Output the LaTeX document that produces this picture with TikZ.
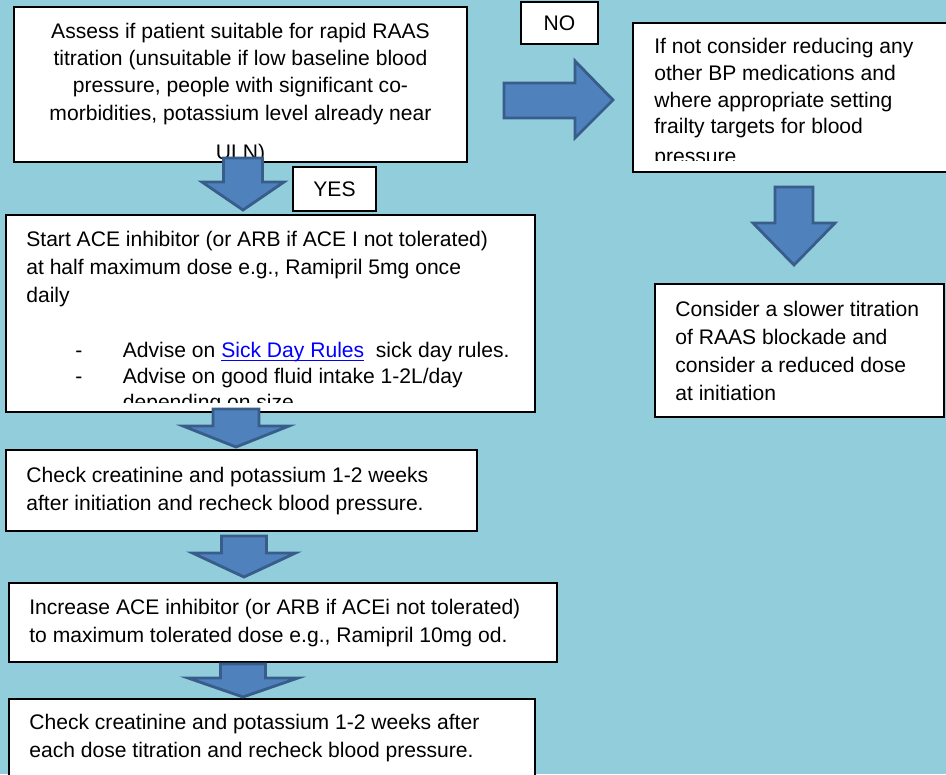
\documentclass[tikz,border=0pt]{standalone}
\usepackage{fontspec}
\setmainfont{Liberation Sans}
\usetikzlibrary{fit}

\definecolor{pagebg}{HTML}{92CDDC}
\definecolor{arrowfill}{HTML}{4F81BD}
\definecolor{arrowedge}{HTML}{385D8A}
\definecolor{linkblue}{HTML}{0000FF}

% underline set close to the baseline, as in a hyperlink
\newcommand{\linkline}[1]{\setbox0\hbox{#1}\rlap{\rule[-2.2pt]{\wd0}{0.6pt}}\box0}

\tikzset{
  stepbox/.style={draw=black, fill=white, line width=0.8pt, inner sep=0pt},
  boxtext/.style={anchor=north west, align=left, inner sep=0pt,
    font=\fontsize{12}{15.9}\selectfont},
  labeltext/.style={inner sep=0pt, font=\fontsize{12}{15.9}\selectfont},
  blockarrow/.style={fill=arrowfill, draw=arrowedge, line width=1.6pt, line join=miter},
}

\begin{document}
\begin{tikzpicture}[x=0.02cm, y=-0.02cm]

    \fill[pagebg] (0,0) rectangle (946,774);
    \useasboundingbox (0,0) rectangle (946,774);
    \clip (0,0) rectangle (946,774);

    % boxes
    \node[stepbox, fit={(14,7) (467,162)}] (assess) {};
    \node[stepbox, fit={(633,23) (950,172)}] (notsuit) {};
    \node[stepbox, fit={(655,284) (944,417)}] (slower) {};
    \node[stepbox, fit={(6,215) (535,412)}] (start) {};
    \node[stepbox, fit={(6,450) (477,531)}] (check) {};
    \node[stepbox, fit={(9,583) (557,662)}] (increase) {};
    \node[stepbox, fit={(9,699) (535,785)}] (recheck) {};

    \node[stepbox, fit={(293,167) (376,211)}] (yes) {};
    \node[stepbox, fit={(521,2) (598,44)}] (no) {};
    \node[labeltext] (yeslabel) at (yes.center) {YES};
    \node[labeltext] (nolabel) at (no.center) {NO};

    % texts (some run out of their box)
    \begin{scope}
        \clip (assess.north west) rectangle ([shift={(0,-3)}]assess.south east);
        \node[boxtext, anchor=north, align=center,
              font=\fontsize{12}{15.5}\selectfont] (assesstext) at (240.5,18.9)
            {\strut Assess if patient suitable for rapid RAAS\\
             titration (unsuitable if low baseline blood\\
             pressure, people with significant co-\\
             morbidities, potassium level already near\\[7.2pt]
             ULN)};
    \end{scope}

    \begin{scope}
        \clip (notsuit.north west) rectangle ([shift={(0,-12)}]notsuit.south east);
        \node[boxtext, font=\fontsize{12}{15.25}\selectfont] (notsuittext) at (654,34.5)
            {\strut If not consider reducing any\\
             other BP medications and\\
             where appropriate setting\\
             frailty targets for blood\\[1.8pt]
             pressure};
    \end{scope}

    \node[boxtext] (slowertext) at (675,296.4)
        {\strut Consider a slower titration\\
         of RAAS blockade and\\
         consider a reduced dose\\
         at initiation};

    \node[boxtext] (starttext) at (26,226.4)
        {\strut Start ACE inhibitor (or ARB if ACE I not tolerated)\\
         at half maximum dose e.g., Ramipril 5mg once\\
         daily};

    \begin{scope}
        \clip (start.north west) rectangle ([shift={(0,-10)}]start.south east);
        \node[boxtext, font=\fontsize{12}{14.8}\selectfont] (advice) at (75,338.5)
            {\strut\makebox[0.95cm][l]{-}Advise on
             \textcolor{linkblue}{\linkline{Sick Day Rules}}\ \ sick day rules.\\
             \makebox[0.95cm][l]{-}Advise on good fluid intake 1-2L/day\\
             \makebox[0.95cm][l]{}depending on size};
    \end{scope}

    \node[boxtext] (checktext) at (26,462.4)
        {\strut Check creatinine and potassium 1-2 weeks\\
         after initiation and recheck blood pressure.};

    \node[boxtext] (increasetext) at (29,594.4)
        {\strut Increase ACE inhibitor (or ARB if ACEi not tolerated)\\
         to maximum tolerated dose e.g., Ramipril 10mg od.};

    \node[boxtext] (rechecktext) at (29,709.4)
        {\strut Check creatinine and potassium 1-2 weeks after\\
         each dose titration and recheck blood pressure.};

    % block arrows
    \draw[blockarrow] (504,83) -- (575,83) -- (575,61) -- (613,100)
        -- (575,138) -- (575,118) -- (504,118) -- cycle;

    \foreach \cx/\ty/\hy/\by/\sw/\hw in {243/158/182/210/19.5/41,
        794/187/223/265/19/41, 236/409/426/447/23/53,
        244/536/553/577/22.5/51.5, 243/664/678/697/22.5/55}
        \draw[blockarrow] (\cx-\sw,\ty) -- (\cx+\sw,\ty) -- (\cx+\sw,\hy)
            -- (\cx+\hw,\hy) -- (\cx,\by) -- (\cx-\hw,\hy) -- (\cx-\sw,\hy) -- cycle;

\end{tikzpicture}
\end{document}
